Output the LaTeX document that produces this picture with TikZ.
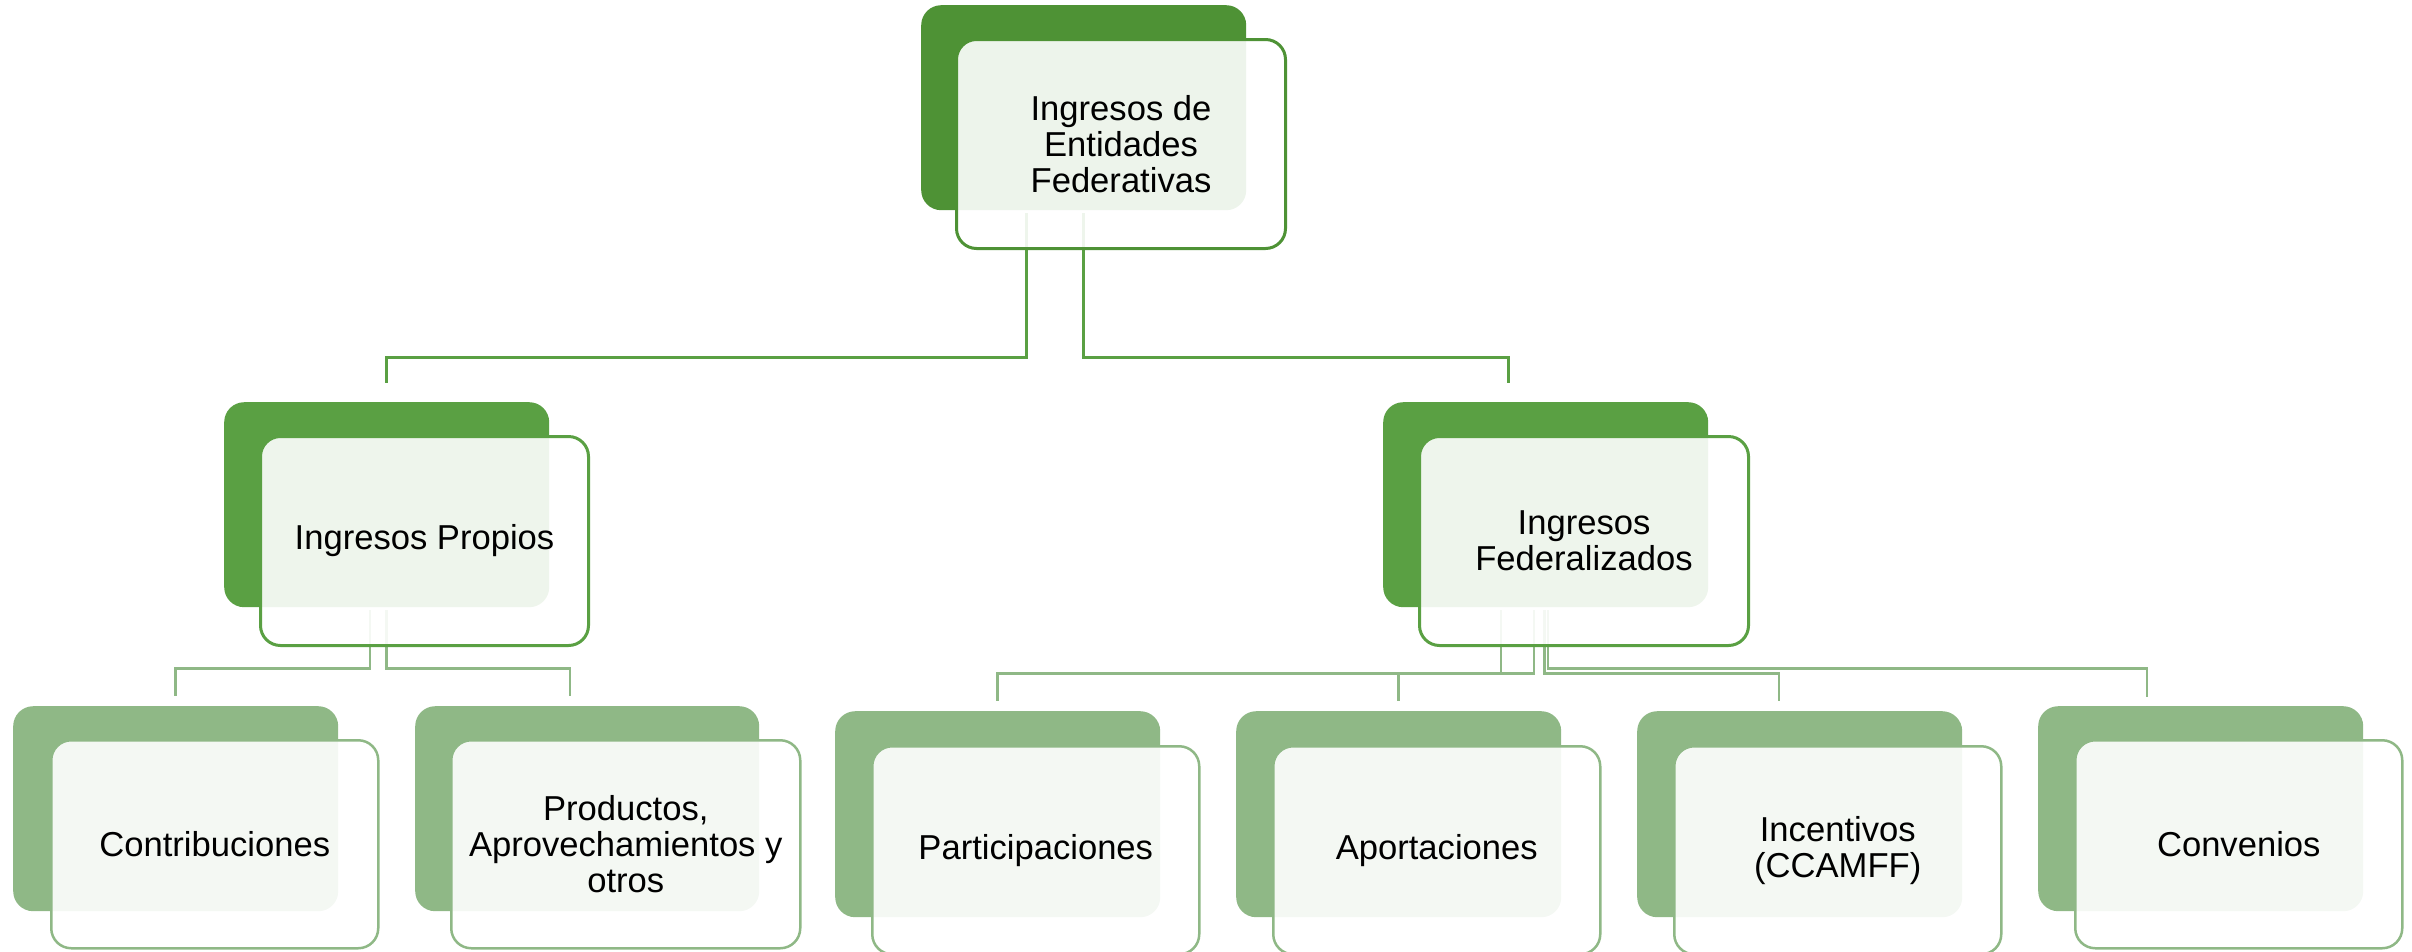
\documentclass[tikz,border=0pt]{standalone}
\usepackage{fontspec}
\setmainfont{Liberation Sans}
\definecolor{gA}{HTML}{4E9235}
\definecolor{gB}{HTML}{5AA043}
\definecolor{gC}{HTML}{8FB886}
\tikzset{
  backbox/.style={rounded corners=20pt, inner sep=0pt, anchor=north west, draw=none},
  backA/.style={backbox, fill=gA},
  backB/.style={backbox, fill=gB},
  backC/.style={backbox, fill=gC},
  frontbox/.style={rounded corners=20pt, fill=white, fill opacity=0.9, text opacity=1,
    inner sep=0pt, anchor=north west, align=center, text=black,
    font=\fontsize{34.6}{36}\selectfont},
  frontA/.style={frontbox, draw=gA, line width=3pt},
  frontB/.style={frontbox, draw=gB, line width=3pt},
  frontC/.style={frontbox, draw=gC, line width=2.5pt},
  connB/.style={draw=gB, line width=3pt},
  connC/.style={draw=gC, line width=2.5pt},
}
\begin{document}
\begin{tikzpicture}[x=1pt,y=-1pt]
\useasboundingbox (0,0) rectangle (2412,951);
% back rectangles
\node[backA, minimum width=325pt, minimum height=205pt] (topB) at (921,5) {};
\node[backB, minimum width=325pt, minimum height=205pt] (ipB) at (224,402) {};
\node[backB, minimum width=325pt, minimum height=205pt] (ifB) at (1383,402) {};
\node[backC, minimum width=325pt, minimum height=205pt] (cB) at (13,706) {};
\node[backC, minimum width=344pt, minimum height=205pt] (pB) at (415,706) {};
\node[backC, minimum width=325pt, minimum height=206pt] (paB) at (835,711) {};
\node[backC, minimum width=325pt, minimum height=206pt] (apB) at (1236,711) {};
\node[backC, minimum width=325pt, minimum height=206pt] (inB) at (1637,711) {};
\node[backC, minimum width=325pt, minimum height=205pt] (coB) at (2038,706) {};
% connectors
\draw[connB] ([xshift=-57.5pt,yshift=-3pt]topB.south) -- ++(0,144) -| ([yshift=19pt]ipB.north);
\draw[connB] ([yshift=-3pt]topB.south) -- ++(0,144) -| ([xshift=-37.5pt,yshift=19pt]ifB.north);
\draw[connC] ([xshift=-16.5pt,yshift=-3pt]ipB.south) -- ++(0,58) -| ([yshift=10pt]cB.north);
\draw[connC] ([yshift=-3pt]ipB.south) -- ++(0,58) -| ([xshift=-17pt,yshift=10pt]pB.north);
\draw[connC] ([xshift=-44.5pt,yshift=-3pt]ifB.south) -- ++(0,63) -| ([yshift=10pt]paB.north);
\draw[connC] ([xshift=-11.5pt,yshift=-3pt]ifB.south) -- ++(0,63) -| ([yshift=10pt]apB.north);
\draw[connC] ([xshift=-1pt,yshift=-3pt]ifB.south) -- ++(0,63) -| ([xshift=-20.5pt,yshift=10pt]inB.north);
\draw[connC] ([xshift=2.5pt,yshift=-3pt]ifB.south) -- ++(0,58) -| ([xshift=-53.5pt,yshift=9pt]coB.north);
% front boxes
\node[frontA, minimum width=329pt, minimum height=209pt] (top) at (955,38) {Ingresos de\\Entidades\\Federativas};
\node[frontB, minimum width=328pt, minimum height=209pt] (ip) at (259,435) {Ingresos Propios};
\node[frontB, minimum width=329pt, minimum height=209pt] (if) at (1418,435) {Ingresos\\Federalizados};
\node[frontC, minimum width=327pt, minimum height=208pt] (c) at (50,739) {Contribuciones};
\node[frontC, minimum width=349pt, minimum height=208pt] (p) at (450,739) {Productos,\\Aprovechamientos y\\otros};
\node[frontC, minimum width=327pt, minimum height=208pt] (pa) at (871,745) {Participaciones};
\node[frontC, minimum width=327pt, minimum height=208pt] (ap) at (1272,745) {Aportaciones};
\node[frontC, minimum width=327pt, minimum height=208pt] (in) at (1673,745) {Incentivos\\(CCAMFF)};
\node[frontC, minimum width=327pt, minimum height=208pt] (co) at (2074,739) {Convenios};
\end{tikzpicture}
\end{document}
